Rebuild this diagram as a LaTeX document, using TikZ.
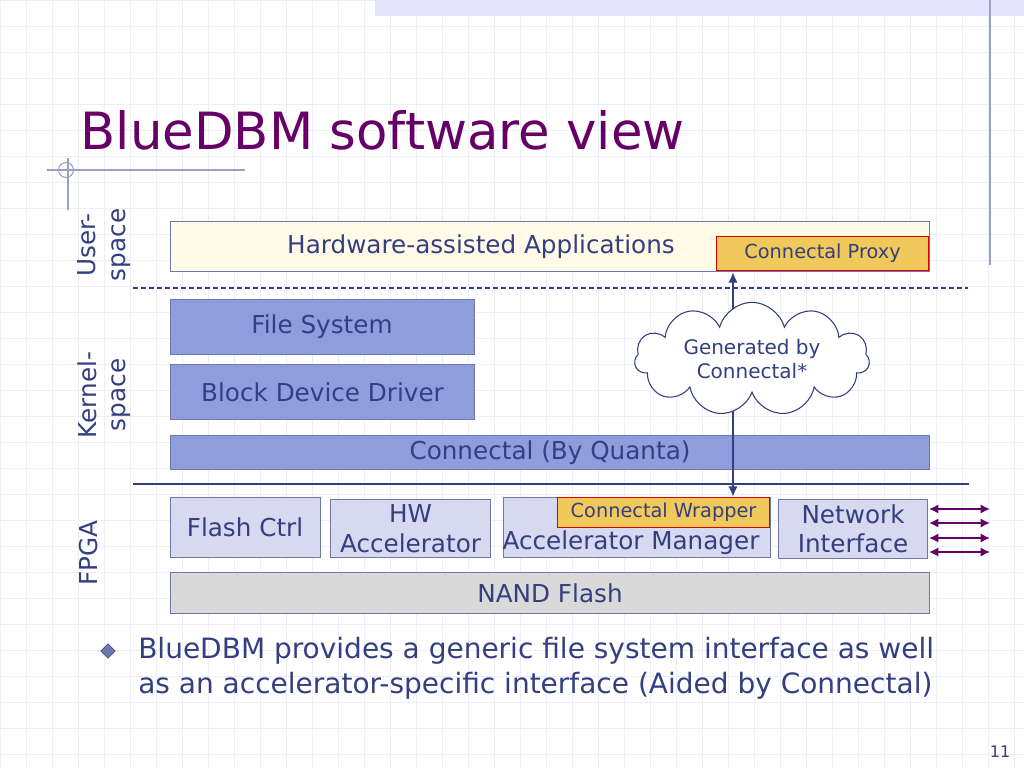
\documentclass[tikz,border=0pt]{standalone}
\usepackage{fontspec}
\setmainfont{DejaVu Sans}
\usetikzlibrary{shapes.symbols,shapes.geometric,arrows.meta}
\definecolor{txt}{HTML}{333F80}
\definecolor{ttl}{HTML}{660066}
\definecolor{bord}{HTML}{6F78A8}
\definecolor{kern}{HTML}{8E9EDD}
\definecolor{fpga}{HTML}{D6D9EF}
\definecolor{nand}{HTML}{D9D9D9}
\definecolor{app}{HTML}{FFFBE8}
\definecolor{gold}{HTML}{F0C95A}
\definecolor{grid}{HTML}{EDEFF7}
\begin{document}
\begin{tikzpicture}[x=0.75pt,y=-0.75pt,
  bf/.style={font=\fontsize{18.5}{22}\selectfont},
  box/.style={draw=bord,line width=0.8pt,anchor=north west,inner sep=0pt,text=txt,bf,align=center},
  lbl/.style={text=txt,bf,align=center,rotate=90},
  na/.style={draw=ttl,line width=2pt,{Latex[length=7pt,width=7pt]}-{Latex[length=7pt,width=7pt]}}]
\useasboundingbox (0,0) rectangle (1024,768);
\fill[white] (0,0) rectangle (1024,768);
\foreach \x in {0,26,...,1024} \draw[grid,line width=0.4pt] (\x,0) -- (\x,768);
\foreach \y in {0,26,...,768} \draw[grid,line width=0.4pt] (0,\y) -- (1024,\y);
\fill[blue!10] (375,0) rectangle (1024,16);
\draw[bord!70,line width=0.8pt] (990,0) -- (990,265);
\draw[bord!70,line width=0.8pt] (47,170) -- (245,170);
\draw[bord!70,line width=0.8pt] (68,158) -- (68,210);
\draw[bord!70,line width=0.8pt] (66,170) circle (7.5);
\node[anchor=west,text=ttl,font=\fontsize{38.5}{42}\selectfont] (title) at (76,130) {BlueDBM software view};
\node[lbl] (us) at (104,245) {User-\\space};
\node[lbl] (ks) at (104,395) {Kernel-\\space};
\node[lbl] (fp) at (89,553) {FPGA};
\node[box,fill=app,minimum width=759*0.75pt,minimum height=50*0.75pt] (appl) at (170,221) {};
\node[text=txt,bf] (appt) at (481,247) {Hardware-assisted Applications};
\node[box,fill=gold,draw=red!85!black,minimum width=212*0.75pt,minimum height=34*0.75pt,font=\fontsize{14.5}{17}\selectfont] (proxy) at (716,236) {Connectal Proxy};
\draw[txt,line width=0.8pt,dash pattern=on 4pt off 2pt] (133,288) coordinate (d1) -- (968,288) coordinate (d2);
\node[box,fill=kern,minimum width=304*0.75pt,minimum height=55*0.75pt] (fs) at (170,299) {};
\node[text=txt,bf] at (322,327) {File System};
\node[box,fill=kern,minimum width=304*0.75pt,minimum height=55*0.75pt] (bd) at (170,364) {Block Device Driver};
\node[box,fill=kern,minimum width=759*0.75pt,minimum height=34*0.75pt] (con) at (170,435) {Connectal (By Quanta)};
\draw[txt,line width=1.2pt] (133,484) coordinate (s1) -- (969,484) coordinate (s2);
\node[box,fill=fpga,minimum width=150*0.75pt,minimum height=60*0.75pt] (fc) at (170,497) {};
\node[text=txt,bf] at (245,527) {Flash Ctrl};
\node[box,fill=fpga,minimum width=160*0.75pt,minimum height=58*0.75pt] (hw) at (330,499) {HW\\Accelerator};
\node[box,fill=fpga,minimum width=267*0.75pt,minimum height=60*0.75pt] (am) at (503,497) {};
\node[text=txt,bf] at (631,543) {Accelerator Manager};
\node[box,fill=gold,draw=red!85!black,minimum width=212*0.75pt,minimum height=30*0.75pt,font=\fontsize{14.5}{17}\selectfont] (wr) at (557,497) {Connectal Wrapper};
\node[box,fill=fpga,minimum width=149*0.75pt,minimum height=59*0.75pt] (ni) at (778,499) {Network\\Interface};
\node[box,fill=nand,minimum width=759*0.75pt,minimum height=41*0.75pt] (nf) at (170,572) {NAND Flash};
\foreach \yy/\nm in {509/a,523/b,538/c,552/d}{
  \coordinate (l\nm) at (929,\yy); \coordinate (r\nm) at (990,\yy);
  \draw[na] (l\nm) -- (r\nm);}
\coordinate (at) at (733,272); \coordinate (ab) at (733,497);
\draw[txt,line width=2pt,{Latex[length=8pt,width=7pt]}-{Latex[length=8pt,width=7pt]}] (at) -- (ab);
\node[cloud,cloud puffs=11,aspect=2.6,draw=txt,fill=white,line width=0.8pt,minimum width=235*0.75pt,minimum height=88*0.75pt,inner sep=0pt,text=txt,font=\fontsize{15}{18}\selectfont,align=center] (cl) at (752,359) {Generated by\\Connectal*};
\node[diamond,fill=bord,draw=txt,minimum size=11pt,inner sep=0pt] (bul) at (108,651) {};
\node[anchor=north west,text=txt,font=\fontsize{21}{26}\selectfont,align=left,inner sep=0pt] (bt) at (138,637) {BlueDBM provides a generic file system interface as well\\as an accelerator-specific interface (Aided by Connectal)};
\node[text=txt,font=\fontsize{12}{14}\selectfont] (pg) at (1000,752) {11};
\end{tikzpicture}
\end{document}
